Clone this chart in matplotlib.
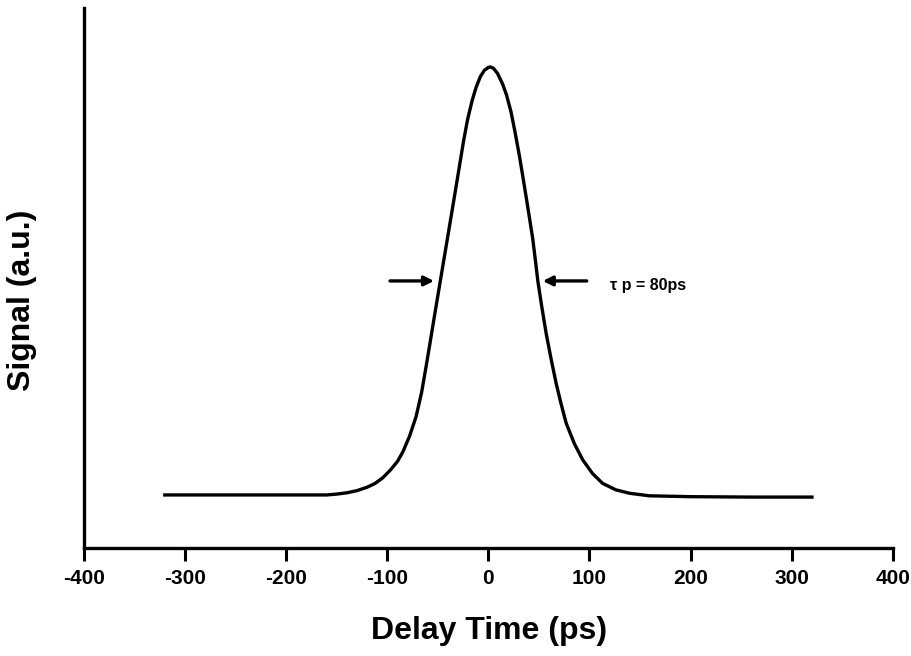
import matplotlib.pyplot as plt

plt.rcParams['font.family'] = ['Liberation Sans', 'DejaVu Sans']
plt.rcParams['font.weight'] = 'bold'

# data
delay = [-320, -260, -200, -160, -150, -140, -130, -120, -112, -104.5, -97,
         -90, -84.7, -78, -71.5, -66, -61.6, -57.5, -53.4, -49.3, -45.2, -41,
         -36.9, -32.8, -28.7, -24.6, -20.5, -16, -12.2, -8, -4, 0, 2, 5, 9,
         14.1, 18, 22.4, 26.5, 30.7, 34, 37.3, 40.6, 43.9, 46.5, 48.9, 53,
         57.1, 62, 67, 72, 76.9, 85, 93.3, 103, 113, 126, 139.5, 159, 200,
         260, 320]
signal = [0, 0, 0, 0, 0.002, 0.005, 0.010, 0.018, 0.027, 0.040, 0.058,
          0.078, 0.100, 0.137, 0.183, 0.240, 0.300, 0.358, 0.417, 0.475, 0.533, 0.592,
          0.650, 0.708, 0.767, 0.826, 0.878, 0.922, 0.952, 0.977, 0.992, 0.999, 1.0, 0.997, 0.985,
          0.960, 0.934, 0.895, 0.846, 0.792, 0.745, 0.697, 0.648, 0.598, 0.548, 0.500, 0.437,
          0.378, 0.318, 0.261, 0.212, 0.168, 0.120, 0.082, 0.050, 0.027, 0.012, 0.004, -0.002, -0.004,
          -0.005, -0.005]
xticks = [-400, -300, -200, -100, 0, 100, 200, 300, 400]
pulse_label = "τ p = 80ps"

fig = plt.figure(figsize=(9.12, 6.56), dpi=100)
ax = fig.add_axes([0.092, 0.1646, 0.887, 0.8234])

ax.plot(delay, signal, color='black', lw=2.4, solid_joinstyle='round')

# FWHM arrows
ax.annotate('', xy=(-51, 0.5), xytext=(-100, 0.5),
            arrowprops=dict(arrowstyle='-|>', lw=2.4, color='black', mutation_scale=14))
ax.annotate('', xy=(51, 0.5), xytext=(100, 0.5),
            arrowprops=dict(arrowstyle='-|>', lw=2.4, color='black', mutation_scale=14))
ax.text(120, 0.49, pulse_label, fontsize=11.5, fontweight='bold', va='center')

ax.set_xlim(-400, 400)
ax.set_ylim(-0.124, 1.138)
ax.set_xticks(xticks)
ax.set_xticklabels([str(t) for t in xticks], fontsize=15, fontweight='bold')
ax.set_yticks([])
ax.tick_params(axis='x', direction='out', length=9, width=2.2, pad=6)

for side in ['top', 'right']:
    ax.spines[side].set_visible(False)
for side in ['left', 'bottom']:
    ax.spines[side].set_linewidth(2.4)

ax.set_xlabel('Delay Time (ps)', fontsize=23, fontweight='bold', va='top')
ax.xaxis.set_label_coords(0.5006, -0.126)
ax.set_ylabel('Signal (a.u.)', fontsize=23, fontweight='bold')
ax.yaxis.set_label_coords(-0.058, 0.459)

fig.savefig('out.png', dpi=100)
